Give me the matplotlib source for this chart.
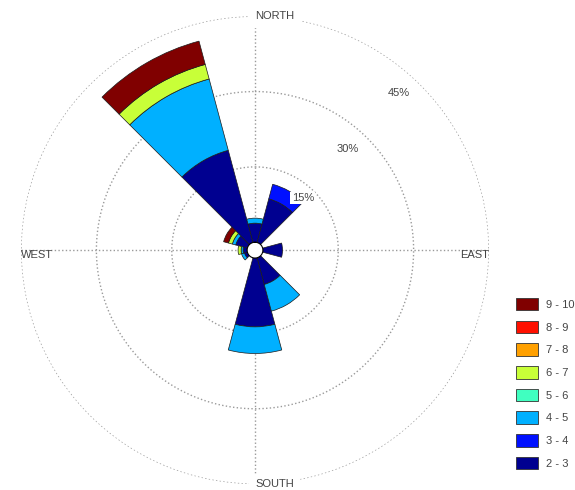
import numpy as np
import matplotlib.pyplot as plt
from matplotlib.patches import Patch

plt.rcParams['font.family'] = ['Liberation Sans', 'DejaVu Sans']

# wind directions (degrees, clockwise from north) and speed bins
directions = [0, 30, 60, 90, 120, 150, 180, 210, 240, 270, 300, 330]
speed_bins = ['2 - 3', '3 - 4', '4 - 5', '5 - 6', '6 - 7', '7 - 8', '8 - 9', '9 - 10']

# frequency (%) per direction for each speed bin
freq_2_3 = [3.8, 9.0, 0, 3.9, 0, 5.5, 13.7, 0, 0.6, 0.8, 2.4, 19.0]
freq_3_4 = [0, 3.0, 0, 0, 0, 0, 0, 0, 0, 0, 0, 0]
freq_4_5 = [1.0, 0, 0, 0, 0, 5.5, 5.3, 0, 0.6, 0.4, 0.7, 14.7]
freq_5_6 = [0, 0, 0, 0, 0, 0, 0, 0, 0, 0, 0, 0]
freq_6_7 = [0, 0, 0, 0, 0, 0, 0, 0, 0, 0.6, 0.8, 3.0]
freq_7_8 = [0, 0, 0, 0, 0, 0, 0, 0, 0, 0, 0, 0]
freq_8_9 = [0, 0, 0, 0, 0, 0, 0, 0, 0, 0, 0, 0]
freq_9_10 = [0, 0, 0, 0, 0, 0, 0, 0, 0, 0, 1.0, 4.8]

rings = [15, 30, 45]
ring_labels = ['15%', '30%', '45%']

all_freqs = [freq_2_3, freq_3_4, freq_4_5, freq_5_6,
             freq_6_7, freq_7_8, freq_8_9, freq_9_10]
# jet-like palette, slowest to fastest
colors = ['#000090', '#0010ff', '#00b0ff', '#40ffc0',
          '#c8ff38', '#ffa000', '#ff1000', '#800000']

fig = plt.figure(figsize=(5.75, 4.9), dpi=100)
ax = fig.add_axes([0.033, 0.012, 0.821, 0.955], projection='polar')
ax.set_theta_zero_location('N')
ax.set_theta_direction(-1)
ax.set_rorigin(-1.57)
ax.set_ylim(0, 45)
ax.grid(False)
ax.set_xticks([])
ax.set_yticks([])
ax.spines['polar'].set_visible(False)

grid_col = '#9a9a9a'
tt = np.linspace(0, 2 * np.pi, 400)
for r in rings:
    ax.plot(tt, np.full_like(tt, r), ls=':', lw=1, color=grid_col, zorder=1)
for a in [0, 90, 180, 270]:
    ax.plot([np.radians(a)] * 2, [0, 45], ls=':', lw=1, color=grid_col, zorder=1)

theta = np.radians(directions)
width = np.radians(30)
bottom = np.zeros(len(directions))
for f, c in zip(all_freqs, colors):
    f = np.array(f, dtype=float)
    m = f > 0
    if m.any():
        ax.bar(theta[m], f[m], width=width, bottom=bottom[m], color=c,
               edgecolor='#1a1a1a', linewidth=0.5, zorder=2)
    bottom += f

txt_col = '#444444'
fs = 8
ax.text(0, 45, 'NORTH', ha='left', va='center', fontsize=fs, color=txt_col,
        backgroundcolor='white', zorder=3)
ax.text(np.pi, 45, 'SOUTH', ha='left', va='center', fontsize=fs, color=txt_col,
        backgroundcolor='white', zorder=3)
ax.text(np.radians(270), 45, 'WEST', ha='left', va='top', fontsize=fs, color=txt_col, zorder=3)
ax.text(np.radians(90), 45, 'EAST', ha='right', va='top', fontsize=fs, color=txt_col, zorder=3)

for r, lab in zip([12.5, 25.8, 40.9], ring_labels):
    ax.text(np.radians(42.5), r, lab, ha='center', va='center', fontsize=fs, color=txt_col,
            bbox=dict(facecolor='white', edgecolor='none', pad=1), zorder=4)

handles = [Patch(facecolor=c, edgecolor='#333333', linewidth=0.6) for c in colors]
fig.legend(handles[::-1], speed_bins[::-1], loc='upper left',
           bbox_to_anchor=(516 / 575, 1 - 298 / 490), frameon=False, fontsize=fs,
           handlelength=1.95, handleheight=1.35, labelspacing=0.92, handletextpad=0.75,
           borderpad=0, borderaxespad=0, labelcolor=txt_col)

fig.savefig('out.png', dpi=100)
